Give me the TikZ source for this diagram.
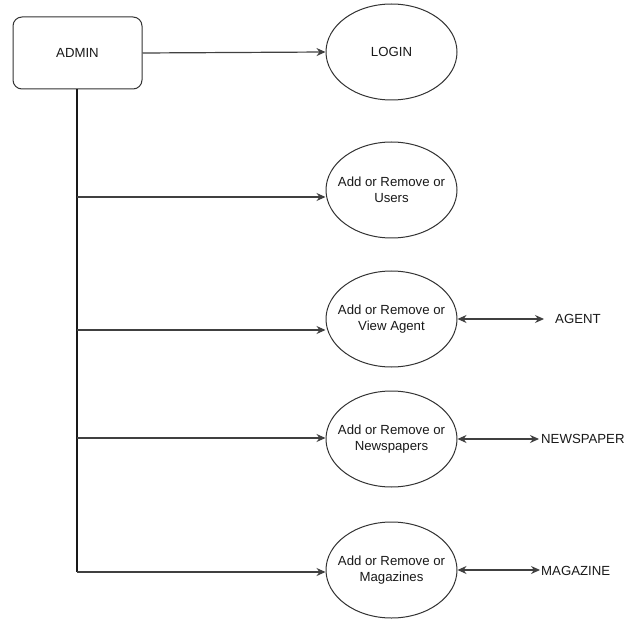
\documentclass[tikz,border=0pt]{standalone}
\usepackage{fontspec}
\setmainfont{Liberation Sans}
\usetikzlibrary{arrows.meta,shapes.geometric}
\begin{document}
\begin{tikzpicture}[x=1pt,y=-1pt,
  txt/.style={font=\fontsize{13.2}{16.5}\selectfont, text=black!90, align=center},
  proc/.style={draw=black!80, line width=1pt, ellipse, minimum width=131pt, minimum height=96pt, inner xsep=-8pt, inner ysep=0pt, txt},
  boxst/.style={draw=black!80, line width=1pt, rounded corners=9pt, minimum width=129pt, minimum height=72pt, inner sep=0pt, txt},
  conn/.style={draw=black!75, line width=1.2pt, -{Stealth[length=9pt,width=8pt]}},
  bconn/.style={draw=black!75, line width=1.2pt, {Stealth[length=9pt,width=8pt]}-{Stealth[length=9pt,width=8pt]}},
  trunk/.style={draw=black!90, line width=1.8pt},
  lbl/.style={txt, anchor=west, inner sep=0pt}
]
\useasboundingbox (0,0) rectangle (626,620);
\fill[white] (0,0) rectangle (626,620);

\node[boxst] (admin) at (77.5,53) {ADMIN};
\node[proc] (login) at (391.5,52) {LOGIN};
\node[proc] (users) at (391.5,190) {Add or Remove or\\Users};
\node[proc] (agentp) at (391.5,319) {Add or Remove or\\View Agent};
\node[proc] (newsp) at (391.5,439) {Add or Remove or\\Newspapers};
\node[proc] (magp) at (391.5,570) {Add or Remove or\\Magazines};

\node[lbl] (agent) at (555,319) {AGENT};
\node[lbl] (news) at (541,439) {NEWSPAPER};
\node[lbl] (mag) at (541,571) {MAGAZINE};

\coordinate (top) at (77,89);
\coordinate (bu) at (77,197);
\coordinate (ba) at (77,330);
\coordinate (bn) at (77,438);
\coordinate (bm) at (77,572);

\draw[conn] (admin.east) -- (login.west);
\draw[trunk] (admin.south -| top) -- (bm);
\draw[conn] (bu) -- (bu -| users.west);
\draw[conn] (ba) -- (ba -| agentp.west);
\draw[conn] (bn) -- (bn -| newsp.west);
\draw[conn] (bm) -- (bm -| magp.west);

\draw[bconn] (agentp.east) -- ([xshift=-11pt]agent.west);
\draw[bconn] (newsp.east) -- ([xshift=-2pt]news.west);
\draw[bconn] (magp.east) -- ([xshift=-1pt]mag.west |- magp.east);
\end{tikzpicture}
\end{document}
